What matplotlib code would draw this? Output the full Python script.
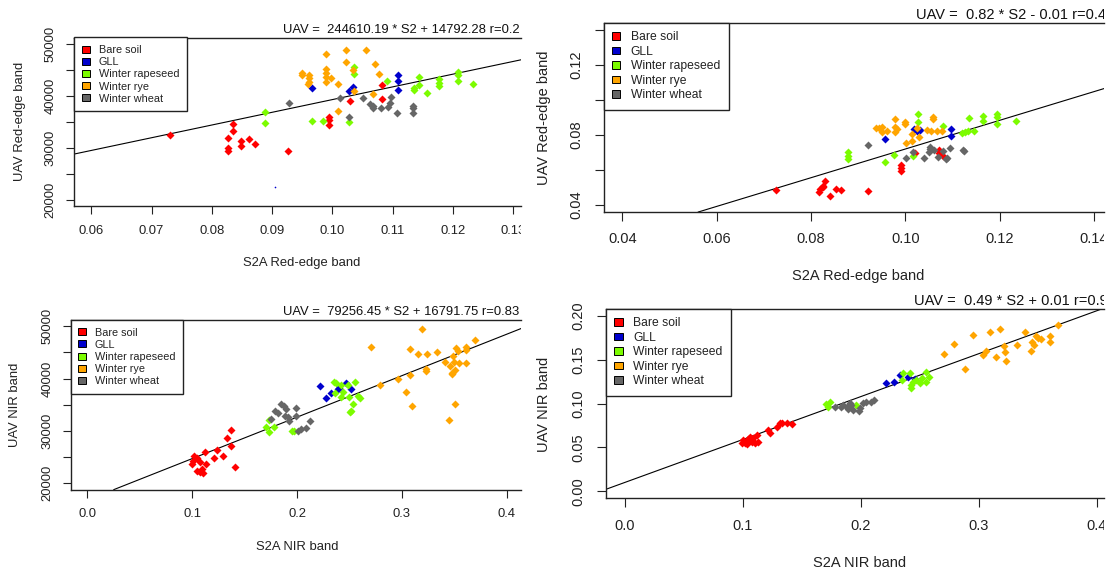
import matplotlib
matplotlib.use("Agg")
import matplotlib.pyplot as plt
from matplotlib.patches import Patch
from matplotlib.transforms import Bbox, TransformedBbox, ScaledTranslation

W, H = 1110, 575
plt.rcParams['font.family'] = ['Liberation Sans', 'DejaVu Sans']

classes = ["Bare soil", "GLL", "Winter rapeseed", "Winter rye", "Winter wheat"]
colors = ["#FF0000", "#0000CD", "#7CFC00", "#FFA500", "#666666"]

# ---------------- Panel 1: Red-edge, UAV DN ----------------
p1_bare_x = [0.0730, 0.0835, 0.0835, 0.0827, 0.0827, 0.0827, 0.0848, 0.0848, 0.0861, 0.0871,
             0.0927, 0.0995, 0.0995, 0.0995, 0.1030, 0.1083, 0.1083]
p1_bare_y = [32370, 34490, 33140, 31800, 29870, 29420, 31350, 30380, 31670, 30640,
             29360, 35960, 35320, 34360, 39040, 41990, 39360]
p1_gll_x = [0.0967, 0.1028, 0.1034, 0.1109, 0.1109, 0.1109]
p1_gll_y = [41540, 40900, 41600, 43910, 42760, 41150]
p1_gll_small_x = [0.0905]
p1_gll_small_y = [22500]
p1_rape_x = [0.0888, 0.0888, 0.0967, 0.0985, 0.1028, 0.1036, 0.1036, 0.1090, 0.1136, 0.1136,
             0.1144, 0.1144, 0.1157, 0.1177, 0.1177, 0.1177, 0.1208, 0.1208, 0.1208, 0.1234]
p1_rape_y = [36860, 34810, 35060, 35060, 34940, 45580, 44170, 42820, 41410, 41090,
             43530, 42050, 40580, 43270, 42500, 41860, 44620, 44040, 42820, 42180]
p1_rye_x = [0.0950, 0.0950, 0.0961, 0.0961, 0.0961, 0.0959, 0.0990, 0.0990, 0.0990, 0.0990, 0.0990,
            0.0997, 0.1009, 0.1009, 0.1022, 0.1022, 0.1035, 0.1036, 0.1055, 0.1070, 0.1068, 0.1077]
p1_rye_y = [44360, 44040, 43970, 43330, 42690, 42180, 47950, 45060, 44420, 43530, 42690,
            43400, 42310, 36990, 48850, 46540, 44940, 40900, 48720, 46030, 40260, 44100]
p1_wheat_x = [0.0928, 0.1012, 0.1028, 0.1051, 0.1063, 0.1068, 0.1068, 0.1081, 0.1092, 0.1096,
              0.1097, 0.1108, 0.1134, 0.1134, 0.1134]
p1_wheat_y = [38530, 39490, 35900, 39620, 38400, 38010, 37560, 37560, 37820, 38530,
              39680, 36600, 38010, 37560, 36670]
p1_fit = (244610.19, 14792.28)
p1_title = "UAV =  244610.19 * S2 + 14792.28 r=0.2"

# ---------------- Panel 2: Red-edge, UAV reflectance ----------------
p2_bare_x = [0.0725, 0.0829, 0.0825, 0.0820, 0.0816, 0.0840, 0.0852, 0.0863, 0.0920, 0.0990,
             0.0990, 0.0990, 0.1020, 0.1072, 0.1072, 0.1080, 0.0826]
p2_bare_y = [0.0484, 0.0539, 0.0509, 0.0490, 0.0474, 0.0451, 0.0490, 0.0486, 0.0480, 0.0629,
             0.0610, 0.0597, 0.0695, 0.0714, 0.0695, 0.0680, 0.0500]
p2_gll_x = [0.0957, 0.1019, 0.1024, 0.1030, 0.1097, 0.1097]
p2_gll_y = [0.0775, 0.0833, 0.0822, 0.0828, 0.0833, 0.0794]
p2_rape_x = [0.0879, 0.0879, 0.0879, 0.0957, 0.0976, 0.1017, 0.1026, 0.1026, 0.1079, 0.1126,
             0.1120, 0.1132, 0.1146, 0.1135, 0.1164, 0.1164, 0.1195, 0.1195, 0.1195, 0.1235]
p2_rape_y = [0.0705, 0.0680, 0.0660, 0.0647, 0.0686, 0.0680, 0.0920, 0.0873, 0.0853, 0.0817,
             0.0811, 0.0820, 0.0825, 0.0895, 0.0910, 0.0882, 0.0920, 0.0901, 0.0863, 0.0882]
p2_rye_x = [0.0937, 0.0951, 0.0951, 0.0944, 0.0979, 0.0979, 0.0979, 0.0983, 0.1000, 0.1000, 0.1013,
            0.1013, 0.1001, 0.1024, 0.1045, 0.1059, 0.1059, 0.1066, 0.0960, 0.1029, 0.1077, 0.1054]
p2_rye_y = [0.0842, 0.0847, 0.0815, 0.0838, 0.0891, 0.0847, 0.0819, 0.0835, 0.0876, 0.0860, 0.0804,
            0.0767, 0.0753, 0.0838, 0.0829, 0.0905, 0.0891, 0.0823, 0.0825, 0.0790, 0.0825, 0.0825]
p2_wheat_x = [0.0920, 0.1001, 0.1017, 0.1040, 0.1052, 0.1053, 0.1051, 0.1060, 0.1080, 0.1070,
              0.1086, 0.1095, 0.1122, 0.1124, 0.1088]
p2_wheat_y = [0.0743, 0.0670, 0.0705, 0.0667, 0.0733, 0.0722, 0.0701, 0.0715, 0.0710, 0.0673,
              0.0661, 0.0724, 0.0714, 0.0708, 0.0670]
p2_fit = (0.82, -0.01)
p2_title = "UAV =  0.82 * S2 - 0.01 r=0.4"

# ---------------- Panel 3: NIR, UAV DN ----------------
p3_bare_x = [0.1366, 0.1328, 0.1369, 0.1232, 0.1121, 0.1016, 0.1042, 0.1290, 0.1210, 0.1010,
             0.1073, 0.1000, 0.1130, 0.1407, 0.1042, 0.1090, 0.1105, 0.1073]
p3_bare_y = [30190, 28600, 27190, 26370, 26040, 25220, 24780, 25220, 24780, 24320,
             24130, 23690, 23690, 23170, 22410, 22680, 21910, 22100]
p3_gll_x = [0.2216, 0.2280, 0.2328, 0.2390, 0.2400, 0.2464, 0.2511]
p3_gll_y = [38600, 36370, 37210, 37970, 38160, 39120, 37970]
p3_rape_x = [0.1733, 0.1702, 0.1733, 0.1781, 0.1947, 0.1969, 0.2350, 0.2375, 0.2359, 0.2423,
             0.2438, 0.2486, 0.2556, 0.2423, 0.2495, 0.2581, 0.2597, 0.2533, 0.2518, 0.2502]
p3_rape_y = [32100, 30710, 29750, 30710, 30060, 30060, 39430, 39120, 37210, 38800,
             37510, 38800, 39310, 36440, 36440, 36690, 36250, 35160, 33880, 33690]
p3_rye_x = [0.3190, 0.2709, 0.3073, 0.3153, 0.3238, 0.3333, 0.3518, 0.3533, 0.3607, 0.3613,
            0.3692, 0.3486, 0.3407, 0.3492, 0.3543, 0.3613, 0.3454, 0.3502, 0.3480, 0.3475,
            0.3232, 0.3232, 0.3073, 0.2962, 0.2788, 0.3035, 0.3099, 0.3502, 0.3445]
p3_rye_y = [49450, 46060, 45620, 44780, 44670, 45160, 45810, 45350, 46000, 45540,
            47400, 44340, 43250, 43130, 43060, 42940, 42430, 41660, 41150, 40950,
            41800, 41480, 40710, 39890, 38800, 37510, 34780, 35160, 32100]
p3_wheat_x = [0.1851, 0.1873, 0.1899, 0.1988, 0.1788, 0.1819, 0.1883, 0.1914, 0.1988, 0.1921,
              0.1756, 0.2121, 0.2042, 0.2083, 0.2010]
p3_wheat_y = [35160, 34780, 34210, 34400, 33820, 33500, 32870, 32620, 32870, 31970,
              32240, 31970, 30330, 30520, 30060]
p3_fit = (79256.45, 16791.75)
p3_title = "UAV =  79256.45 * S2 + 16791.75 r=0.83"

# ---------------- Panel 4: NIR, UAV reflectance ----------------
p4_bare_x = [0.1005, 0.1019, 0.1047, 0.1076, 0.1118, 0.1132, 0.1090, 0.1216, 0.1231, 0.1287,
             0.1330, 0.1372, 0.1414, 0.1033, 0.1104, 0.0991, 0.1062, 0.1316]
p4_bare_y = [0.0585, 0.0548, 0.0597, 0.0566, 0.0642, 0.0566, 0.0604, 0.0699, 0.0669, 0.0737,
             0.0776, 0.0783, 0.0764, 0.0540, 0.0551, 0.0551, 0.0620, 0.0783]
p4_gll_x = [0.2212, 0.2280, 0.2331, 0.2401, 0.2458]
p4_gll_y = [0.1232, 0.1251, 0.1327, 0.1307, 0.1278]
p4_rape_x = [0.1738, 0.1705, 0.1722, 0.1964, 0.2354, 0.2359, 0.2416, 0.2430, 0.2430, 0.2472,
             0.2500, 0.2523, 0.2557, 0.2579, 0.2557, 0.2444]
p4_rape_y = [0.1022, 0.0992, 0.0966, 0.0984, 0.1270, 0.1346, 0.1346, 0.1213, 0.1175, 0.1270,
             0.1232, 0.1289, 0.1364, 0.1307, 0.1251, 0.1251]
p4_rye_x = [0.2703, 0.2788, 0.2951, 0.3093, 0.3177, 0.2881, 0.3036, 0.3065, 0.3143, 0.3220,
            0.3211, 0.3228, 0.3324, 0.3395, 0.3454, 0.3465, 0.3446, 0.3502, 0.3530, 0.3488,
            0.3601, 0.3601, 0.3671]
p4_rye_y = [0.1566, 0.1680, 0.1783, 0.1814, 0.1848, 0.1399, 0.1555, 0.1604, 0.1536, 0.1593,
            0.1658, 0.1486, 0.1669, 0.1814, 0.1707, 0.1669, 0.1604, 0.1745, 0.1734, 0.1776,
            0.1772, 0.1707, 0.1897]
p4_wheat_x = [0.1781, 0.1851, 0.1880, 0.1894, 0.1922, 0.1936, 0.1992, 0.1987, 0.2021, 0.2049,
              0.2091, 0.2111, 0.1837, 0.1908]
p4_wheat_y = [0.0958, 0.0984, 0.0965, 0.0935, 0.0984, 0.0927, 0.0947, 0.0916, 0.1004, 0.1015,
              0.1022, 0.1042, 0.0958, 0.1004]
p4_fit = (0.49, 0.01)
p4_title = "UAV =  0.49 * S2 + 0.01 r=0.9"

# tick values / labels
p1_xticks = [0.06, 0.07, 0.08, 0.09, 0.10, 0.11, 0.12, 0.13]
p1_xlabels = ["0.06", "0.07", "0.08", "0.09", "0.10", "0.11", "0.12", "0.13"]
dn_yticks = [20000, 25000, 30000, 35000, 40000, 45000, 50000]
dn_ylabels = ["20000", "", "30000", "", "40000", "", "50000"]
p2_xticks = [0.04, 0.06, 0.08, 0.10, 0.12, 0.14]
p2_xlabels = ["0.04", "0.06", "0.08", "0.10", "0.12", "0.14"]
p2_yticks = [0.04, 0.06, 0.08, 0.10, 0.12, 0.14]
p2_ylabels = ["0.04", "", "0.08", "", "0.12", ""]
nir_xticks = [0.0, 0.1, 0.2, 0.3, 0.4]
nir_xlabels = ["0.0", "0.1", "0.2", "0.3", "0.4"]
p4_yticks = [0.00, 0.05, 0.10, 0.15, 0.20]
p4_ylabels = ["0.00", "0.05", "0.10", "0.15", "0.20"]

fig = plt.figure(figsize=(W / 100, H / 100), dpi=100)


def clip_box(x0, x1):
    return TransformedBbox(Bbox.from_extents(x0 / W, 0, x1 / W, 1), fig.transFigure)


def panel(rect, xlim, ylim, series, fit, title, xt, xtl, yt, ytl, xlab, ylab, lay):
    l, t, r, b = rect
    ax = fig.add_axes([l / W, 1 - b / H, (r - l) / W, (b - t) / H])
    ax.set_xlim(*xlim)
    ax.set_ylim(*ylim)
    cb = clip_box(lay['clip'][0], lay['clip'][1])
    for (xs, ys), c in zip(series, colors):
        ax.plot(xs, ys, ls='none', marker='D', ms=lay['ms'], mec='none', mfc=c, zorder=3)
    ax.axline((0, fit[1]), slope=fit[0], color='black', lw=0.8, zorder=2)
    for s in ['top', 'left', 'bottom']:
        ax.spines[s].set_color('#222222')
        ax.spines[s].set_linewidth(1.0)
    ax.spines['right'].set_visible(False)
    ax.set_xticks(xt)
    ax.set_yticks(yt)
    ax.tick_params(direction='out', length=lay['tick'], width=0.8, color='#222222',
                   labelbottom=False, labelleft=False)
    fs = lay['fs']
    tx = ax.get_xaxis_transform() + ScaledTranslation(0, -lay['dy'] / 100, fig.dpi_scale_trans)
    for v, s in zip(xt, xtl):
        tt = ax.text(v, 0, s, transform=tx, ha='center', va='center', fontsize=fs, color='#222222')
        tt.set_clip_box(cb); tt.set_clip_on(True)
    ty = ax.get_yaxis_transform() + ScaledTranslation(-lay['dx'] / 100, 0, fig.dpi_scale_trans)
    for v, s in zip(yt, ytl):
        if s:
            tt = ax.text(0, v, s, transform=ty, ha='center', va='center', rotation=90,
                         fontsize=fs, color='#222222')
            tt.set_clip_box(cb); tt.set_clip_on(True)
    # title (cut at right)
    tt = fig.text(lay['title'][0] / W, 1 - lay['title'][1] / H, title, ha='left', va='center',
                  fontsize=fs, color='#111111')
    tt.set_clip_box(cb); tt.set_clip_on(True)
    fig.text(lay['xlab'][0] / W, 1 - lay['xlab'][1] / H, xlab, ha='center', va='center',
             fontsize=fs, color='#222222')
    fig.text(lay['ylab'][0] / W, 1 - lay['ylab'][1] / H, ylab, ha='center', va='center',
             rotation=90, fontsize=fs, color='#222222')
    handles = [Patch(facecolor=c, edgecolor='black', linewidth=0.7) for c in colors]
    leg = ax.legend(handles, classes, loc='upper left', bbox_to_anchor=(0, 1), borderaxespad=0,
                    fontsize=lay['lfs'], frameon=True, fancybox=False, edgecolor='#222222',
                    framealpha=1, handlelength=0.7, handleheight=0.6, handletextpad=0.85,
                    labelspacing=0.2, borderpad=0.7)
    leg.get_frame().set_linewidth(1.0)
    for txt in leg.get_texts():
        txt.set_color('#222222')
    return ax


lay_left = dict(ms=3.9, tick=6, fs=9.4, lfs=7.8, clip=(0, 521))
lay_right = dict(ms=4.3, tick=6.6, fs=10.5, lfs=8.7, clip=(0, 1104))

ax1 = panel((74.4, 37.5, 521, 205.9), (0.0572, 0.1313), (18800, 51200),
            [(p1_bare_x, p1_bare_y), (p1_gll_x, p1_gll_y), (p1_rape_x, p1_rape_y),
             (p1_rye_x, p1_rye_y), (p1_wheat_x, p1_wheat_y)],
            p1_fit, p1_title, p1_xticks, p1_xlabels, dn_yticks, dn_ylabels,
            "S2A Red-edge band", "UAV Red-edge band",
            dict(lay_left, dy=25, dx=23.7, title=(283.2, 30), xlab=(302, 263), ylab=(19.6, 121.5)))
ax1.plot(p1_gll_small_x, p1_gll_small_y, ls='none', marker='o', ms=1.2, mec='none', mfc=colors[1])

panel((603.5, 23.0, 1104, 212.0), (0.036, 0.1421), (0.036, 0.144),
      [(p2_bare_x, p2_bare_y), (p2_gll_x, p2_gll_y), (p2_rape_x, p2_rape_y),
       (p2_rye_x, p2_rye_y), (p2_wheat_x, p2_wheat_y)],
      p2_fit, p2_title, p2_xticks, p2_xlabels, p2_yticks, p2_ylabels,
      "S2A Red-edge band", "UAV Red-edge band",
      dict(lay_right, dy=26.7, dx=27.2, title=(916.2, 15), xlab=(858.5, 276), ylab=(544, 118)))

panel((70.5, 320.0, 521, 489.6), (-0.016, 0.4135), (18800, 51200),
      [(p3_bare_x, p3_bare_y), (p3_gll_x, p3_gll_y), (p3_rape_x, p3_rape_y),
       (p3_rye_x, p3_rye_y), (p3_wheat_x, p3_wheat_y)],
      p3_fit, p3_title, nir_xticks, nir_xlabels, dn_yticks, dn_ylabels,
      "S2A NIR band", "UAV NIR band",
      dict(lay_left, dy=24.5, dx=23.2, title=(283.1, 312.3), xlab=(297, 546.7), ylab=(15.4, 405)))

panel((605.7, 309.0, 1104, 498.3), (-0.016, 0.4061), (-0.008, 0.208),
      [(p4_bare_x, p4_bare_y), (p4_gll_x, p4_gll_y), (p4_rape_x, p4_rape_y),
       (p4_rye_x, p4_rye_y), (p4_wheat_x, p4_wheat_y)],
      p4_fit, p4_title, nir_xticks, nir_xlabels, p4_yticks, p4_ylabels,
      "S2A NIR band", "UAV NIR band",
      dict(lay_right, dy=27.5, dx=27.6, title=(913.9, 301), xlab=(860, 562.7), ylab=(544, 404)))

fig.savefig("out.png", dpi=100, facecolor='white')
